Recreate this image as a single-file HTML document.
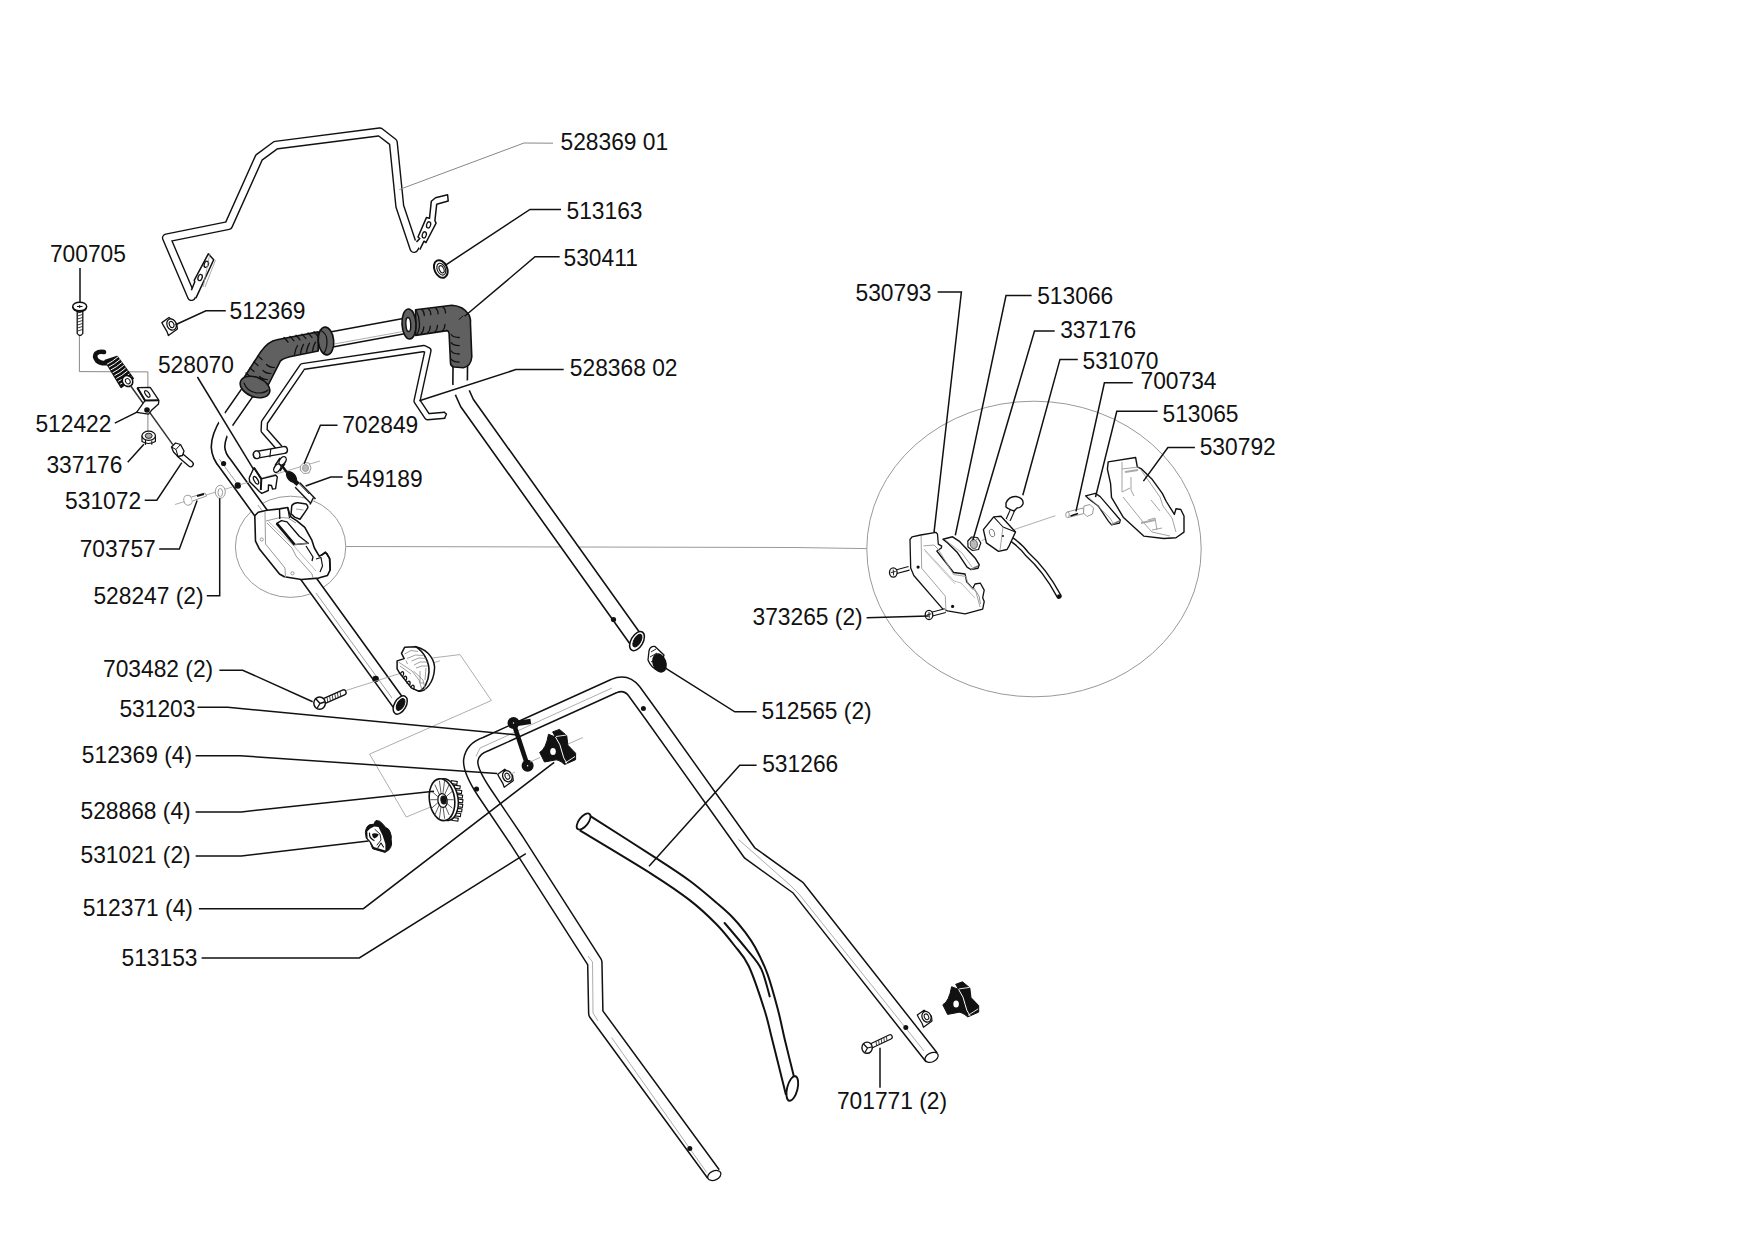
<!DOCTYPE html>
<html><head><meta charset="utf-8"><style>
html,body{margin:0;padding:0;background:#fff;width:1754px;height:1240px;overflow:hidden}
svg{position:absolute;left:0;top:0}
text{font-family:"Liberation Sans",sans-serif;font-size:23.5px;fill:#111}
</style></head><body>
<svg width="1754" height="1240" viewBox="0 0 1754 1240">
<ellipse cx="290.6" cy="546.8" rx="55.2" ry="50.6" transform="rotate(0 290.6 546.8)" fill="none" stroke="#999" stroke-width="1"/>
<polyline points="345.8,546.5 795.0,547.5 866.6,548.6" fill="none" stroke="#999" stroke-width="1" stroke-linejoin="round"/>
<ellipse cx="1034" cy="549" rx="167.2" ry="147.8" transform="rotate(0 1034 549)" fill="none" stroke="#999" stroke-width="1"/>
<polyline points="195.0,289.0 191.5,296.5 166.5,238.0 228.5,225.5 259.0,157.5 275.7,145.2 379.8,131.9 393.3,142.3 399.8,206.2 414.0,248.5 418.0,242.0" fill="none" stroke="#111" stroke-width="9.2" stroke-linejoin="round" stroke-linecap="butt"/>
<polyline points="195.0,289.0 191.5,296.5 166.5,238.0 228.5,225.5 259.0,157.5 275.7,145.2 379.8,131.9 393.3,142.3 399.8,206.2 414.0,248.5 418.0,242.0" fill="none" stroke="#fff" stroke-width="6.4" stroke-linejoin="round" stroke-linecap="butt"/>
<polygon points="191.4,290.2 194.8,281.8 194.2,280.3 208.3,253.8 213.7,259.8 195.9,298.1" fill="#fff" stroke="none"/>
<polyline points="191.4,290.2 194.8,281.8 194.2,280.3 208.3,253.8 213.7,259.8 195.9,298.1" fill="none" stroke="#111" stroke-width="1.5" stroke-linejoin="round"/>
<ellipse cx="206.3" cy="264.3" rx="2" ry="3.2" transform="rotate(20 206.3 264.3)" fill="#fff" stroke="#111" stroke-width="1.3"/>
<ellipse cx="200.1" cy="277.5" rx="2" ry="3.2" transform="rotate(20 200.1 277.5)" fill="#fff" stroke="#111" stroke-width="1.3"/>
<polyline points="210.0,253.3 203.2,286.8" fill="none" stroke="#999" stroke-width="0.8" stroke-linejoin="round"/>
<polyline points="215.5,260.0 205.0,287.0" fill="none" stroke="#999" stroke-width="0.8" stroke-linejoin="round"/>
<polygon points="419.8,249.7 424.0,241.2 426.0,242.5 436.1,223.1 434.9,220.7 436.7,204.3 448.2,201.0 447.6,194.7 435.5,197.7 431.3,201.3 429.5,218.3 426.4,217.6 418.0,237.0 419.8,238.5 416.5,242.1" fill="#fff" stroke="none"/>
<polyline points="419.8,249.7 424.0,241.2 426.0,242.5 436.1,223.1 434.9,220.7 436.7,204.3 448.2,201.0 447.6,194.7 435.5,197.7 431.3,201.3 429.5,218.3 426.4,217.6 418.0,237.0 419.8,238.5 416.5,242.1" fill="none" stroke="#111" stroke-width="1.5" stroke-linejoin="round"/>
<ellipse cx="428.6" cy="224.9" rx="2" ry="3.2" transform="rotate(15 428.6 224.9)" fill="#fff" stroke="#111" stroke-width="1.3"/>
<ellipse cx="424.3" cy="234.9" rx="2" ry="3.2" transform="rotate(15 424.3 234.9)" fill="#fff" stroke="#111" stroke-width="1.3"/>
<ellipse cx="440.8" cy="269" rx="6.3" ry="9.2" transform="rotate(-25 440.8 269)" fill="#fff" stroke="#111" stroke-width="2"/>
<ellipse cx="441.3" cy="269.2" rx="4" ry="6.2" transform="rotate(-25 441.3 269.2)" fill="#fff" stroke="#111" stroke-width="1.1"/>
<ellipse cx="441.6" cy="269.3" rx="2.2" ry="3.8" transform="rotate(-25 441.6 269.3)" fill="#fff" stroke="#111" stroke-width="1.1"/>
<polyline points="445.0,415.3 427.5,416.8 417.0,401.0 428.0,350.5 424.0,348.5 302.6,366.6 264.5,422.3 264.1,430.5 279.7,448.2" fill="none" stroke="#111" stroke-width="7.4" stroke-linejoin="round" stroke-linecap="butt"/>
<polyline points="445.0,415.3 427.5,416.8 417.0,401.0 428.0,350.5 424.0,348.5 302.6,366.6 264.5,422.3 264.1,430.5 279.7,448.2" fill="none" stroke="#fff" stroke-width="4.6" stroke-linejoin="round" stroke-linecap="butt"/>
<polyline points="444.0,412.0 446.5,414.0 444.5,418.5" fill="none" stroke="#111" stroke-width="1.4" stroke-linejoin="round"/>
<polyline points="256.7,454.8 284.0,450.0" fill="none" stroke="#111" stroke-width="8.2" stroke-linejoin="round" stroke-linecap="round"/>
<polyline points="256.7,454.8 284.0,450.0" fill="none" stroke="#fff" stroke-width="5.4" stroke-linejoin="round" stroke-linecap="round"/>
<ellipse cx="256.7" cy="454.8" rx="3.2" ry="3.9" transform="rotate(-10 256.7 454.8)" fill="#fff" stroke="#111" stroke-width="1.3"/>
<polyline points="270.8,449.0 269.8,457.3" fill="none" stroke="#111" stroke-width="1.1" stroke-linejoin="round"/>
<path d="M247,393 L227.5,421 Q218,436 218,447 Q218.5,456 225.5,464 L400.2,705.4" fill="none" stroke="#111" stroke-width="15.1" stroke-linejoin="round" stroke-linecap="butt"/>
<path d="M247,393 L227.5,421 Q218,436 218,447 Q218.5,456 225.5,464 L400.2,705.4" fill="none" stroke="#fff" stroke-width="11.9" stroke-linejoin="round" stroke-linecap="butt"/>
<polyline points="219.3,459.1 236.7,483.0" fill="none" stroke="#888" stroke-width="0.8" stroke-linejoin="round"/>
<polyline points="258.0,505.0 279.0,534.0" fill="none" stroke="#888" stroke-width="0.8" stroke-linejoin="round"/>
<polyline points="316.0,593.0 392.0,698.0" fill="none" stroke="#888" stroke-width="0.8" stroke-linejoin="round"/>
<ellipse cx="400.2" cy="705" rx="5.8" ry="10" transform="rotate(30 400.2 705)" fill="#fff" stroke="#111" stroke-width="1.5"/>
<ellipse cx="400.6" cy="704.5" rx="3.4" ry="6.5" transform="rotate(30 400.6 704.5)" fill="#111" stroke="#111" stroke-width="1"/>
<circle cx="223.6" cy="463.5" r="2.6" fill="#111"/>
<circle cx="237.8" cy="485.5" r="3.2" fill="#111"/>
<circle cx="375.6" cy="679" r="3.3" fill="#111"/>
<polyline points="460.3,364.0 460.1,383.0 462.5,393.0 467.0,403.0 637.0,641.3" fill="none" stroke="#111" stroke-width="16.1" stroke-linejoin="round" stroke-linecap="butt"/>
<polyline points="460.3,364.0 460.1,383.0 462.5,393.0 467.0,403.0 637.0,641.3" fill="none" stroke="#fff" stroke-width="12.9" stroke-linejoin="round" stroke-linecap="butt"/>
<circle cx="613.5" cy="619.5" r="2.6" fill="#111"/>
<ellipse cx="637" cy="641.1" rx="6" ry="10.5" transform="rotate(30 637 641.1)" fill="#fff" stroke="#111" stroke-width="1.5"/>
<ellipse cx="637.4" cy="640.6" rx="3.4" ry="7" transform="rotate(30 637.4 640.6)" fill="#111" stroke="#111" stroke-width="1"/>
<polyline points="326.0,340.5 410.0,325.0" fill="none" stroke="#111" stroke-width="16.900000000000002" stroke-linejoin="round" stroke-linecap="butt"/>
<polyline points="326.0,340.5 410.0,325.0" fill="none" stroke="#fff" stroke-width="13.700000000000001" stroke-linejoin="round" stroke-linecap="butt"/>
<polyline points="334.0,344.0 403.0,331.5" fill="none" stroke="#999" stroke-width="0.8" stroke-linejoin="round"/>
<path d="M243,379.3 L260.8,351.6 Q268.5,341 276.9,339.7 L318.2,331.9 L318.2,351 L289.8,356.8 Q282,359 280.2,361.3 L268.5,384.5 Z" fill="#606060" stroke="#111" stroke-width="1.6" stroke-linejoin="round" stroke-linecap="round"/>
<path d="M284,337.5 l4,4.5" fill="none" stroke="#111" stroke-width="1.3" stroke-linejoin="round" stroke-linecap="round"/>
<path d="M290,336.36 l4,4.5" fill="none" stroke="#111" stroke-width="1.3" stroke-linejoin="round" stroke-linecap="round"/>
<path d="M296,335.22 l4,4.5" fill="none" stroke="#111" stroke-width="1.3" stroke-linejoin="round" stroke-linecap="round"/>
<path d="M302,334.08 l4,4.5" fill="none" stroke="#111" stroke-width="1.3" stroke-linejoin="round" stroke-linecap="round"/>
<path d="M308,332.94 l4,4.5" fill="none" stroke="#111" stroke-width="1.3" stroke-linejoin="round" stroke-linecap="round"/>
<path d="M314,331.8 l4,4.5" fill="none" stroke="#111" stroke-width="1.3" stroke-linejoin="round" stroke-linecap="round"/>
<path d="M294.5,354.5 q1,-6 3,-9" fill="none" stroke="#111" stroke-width="1.3" stroke-linejoin="round" stroke-linecap="round"/>
<path d="M300.5,353.36 q1,-6 3,-9" fill="none" stroke="#111" stroke-width="1.3" stroke-linejoin="round" stroke-linecap="round"/>
<path d="M306.5,352.22 q1,-6 3,-9" fill="none" stroke="#111" stroke-width="1.3" stroke-linejoin="round" stroke-linecap="round"/>
<path d="M312.5,351.08 q1,-6 3,-9" fill="none" stroke="#111" stroke-width="1.3" stroke-linejoin="round" stroke-linecap="round"/>
<path d="M318.5,349.94 q1,-6 3,-9" fill="none" stroke="#111" stroke-width="1.3" stroke-linejoin="round" stroke-linecap="round"/>
<path d="M258,356 l4,3.5" fill="none" stroke="#111" stroke-width="1.2" stroke-linejoin="round" stroke-linecap="round"/>
<path d="M254,362 l4,3.5" fill="none" stroke="#111" stroke-width="1.2" stroke-linejoin="round" stroke-linecap="round"/>
<path d="M250,368 l4,3.5" fill="none" stroke="#111" stroke-width="1.2" stroke-linejoin="round" stroke-linecap="round"/>
<path d="M246,373 l4,3.5" fill="none" stroke="#111" stroke-width="1.2" stroke-linejoin="round" stroke-linecap="round"/>
<path d="M266.5,364.5 q3,3 8,3" fill="none" stroke="#111" stroke-width="1.2" stroke-linejoin="round" stroke-linecap="round"/>
<path d="M263,370.5 q3,3 8,3" fill="none" stroke="#111" stroke-width="1.2" stroke-linejoin="round" stroke-linecap="round"/>
<path d="M259.5,376.5 q3,3 8,3" fill="none" stroke="#111" stroke-width="1.2" stroke-linejoin="round" stroke-linecap="round"/>
<path d="M256.5,382 q3,3 8,3" fill="none" stroke="#111" stroke-width="1.2" stroke-linejoin="round" stroke-linecap="round"/>
<ellipse cx="255" cy="387" rx="15.5" ry="9.8" transform="rotate(22 255 387)" fill="#606060" stroke="#111" stroke-width="1.6"/>
<path d="M244,383 q3,9 14,10 q7,0 10,-3" fill="none" stroke="#111" stroke-width="1.2" stroke-linejoin="round" stroke-linecap="round"/>
<ellipse cx="326" cy="341" rx="7.7" ry="13.9" transform="rotate(-5 326 341)" fill="#606060" stroke="#111" stroke-width="1.6"/>
<path d="M320,330 q7,3 7,11 q0,8 -3,12" fill="none" stroke="#111" stroke-width="1.2" stroke-linejoin="round" stroke-linecap="round"/>
<path d="M415.6,309.7 L451.9,305.3 Q463.5,306 469,314.9 Q471,320 470.4,322.4 L471.8,356.7 Q471,366 463.5,367.7 L453.9,367 Q450.5,366 450.5,362.9 L449.1,333.4 Q448.5,331 447.1,330.6 L415.6,335.4 Z" fill="#606060" stroke="#111" stroke-width="1.6" stroke-linejoin="round" stroke-linecap="round"/>
<path d="M421.8,309.5 q2.5,2 2.5,6" fill="none" stroke="#111" stroke-width="1.3" stroke-linejoin="round" stroke-linecap="round"/>
<path d="M423.8,327.0 q0,4 -2.5,6.5" fill="none" stroke="#111" stroke-width="1.3" stroke-linejoin="round" stroke-linecap="round"/>
<path d="M428.3,308.72 q2.5,2 2.5,6" fill="none" stroke="#111" stroke-width="1.3" stroke-linejoin="round" stroke-linecap="round"/>
<path d="M430.3,326.22 q0,4 -2.5,6.5" fill="none" stroke="#111" stroke-width="1.3" stroke-linejoin="round" stroke-linecap="round"/>
<path d="M435.5,307.856 q2.5,2 2.5,6" fill="none" stroke="#111" stroke-width="1.3" stroke-linejoin="round" stroke-linecap="round"/>
<path d="M437.5,325.356 q0,4 -2.5,6.5" fill="none" stroke="#111" stroke-width="1.3" stroke-linejoin="round" stroke-linecap="round"/>
<path d="M443,306.956 q2.5,2 2.5,6" fill="none" stroke="#111" stroke-width="1.3" stroke-linejoin="round" stroke-linecap="round"/>
<path d="M445,324.456 q0,4 -2.5,6.5" fill="none" stroke="#111" stroke-width="1.3" stroke-linejoin="round" stroke-linecap="round"/>
<path d="M451.2,334.5 q2,3 8,3" fill="none" stroke="#111" stroke-width="1.3" stroke-linejoin="round" stroke-linecap="round"/>
<path d="M451.2,342.7 q2,3 8,3" fill="none" stroke="#111" stroke-width="1.3" stroke-linejoin="round" stroke-linecap="round"/>
<path d="M451.2,351 q2,3 8,3" fill="none" stroke="#111" stroke-width="1.3" stroke-linejoin="round" stroke-linecap="round"/>
<path d="M451.2,359.2 q2,3 8,3" fill="none" stroke="#111" stroke-width="1.3" stroke-linejoin="round" stroke-linecap="round"/>
<path d="M412.5,311 q3,6 3,13 q0,7 -3,11" fill="none" stroke="#111" stroke-width="1.3" stroke-linejoin="round" stroke-linecap="round"/>
<path d="M416.5,311 q3,6 3,13 q0,7 -3,11" fill="none" stroke="#111" stroke-width="1.3" stroke-linejoin="round" stroke-linecap="round"/>
<ellipse cx="409" cy="324" rx="7" ry="15" transform="rotate(-3 409 324)" fill="#606060" stroke="#111" stroke-width="1.6"/>
<ellipse cx="408.3" cy="324.5" rx="2.4" ry="7" transform="rotate(-3 408.3 324.5)" fill="#fff" stroke="#111" stroke-width="1.4"/>
<path d="M463,316 l-4,3.5" fill="none" stroke="#111" stroke-width="1" stroke-linejoin="round" stroke-linecap="round"/>
<path d="M713.5,1174 L595.8,1013.3 L594.8,962.5 L516.4,840 L484,792 Q469.5,770 470.8,760 Q472.5,748.5 486,744 L614,686 Q626,681 634,691 L651.4,715 L749.6,852.9 L798,887.7 L931.6,1057.4" fill="none" stroke="#111" stroke-width="15.8" stroke-linejoin="round" stroke-linecap="butt"/>
<path d="M713.5,1174 L595.8,1013.3 L594.8,962.5 L516.4,840 L484,792 Q469.5,770 470.8,760 Q472.5,748.5 486,744 L614,686 Q626,681 634,691 L651.4,715 L749.6,852.9 L798,887.7 L931.6,1057.4" fill="none" stroke="#fff" stroke-width="12.8" stroke-linejoin="round" stroke-linecap="butt"/>
<polyline points="476.0,756.4 480.0,748.0 490.0,743.5 612.0,688.0" fill="none" stroke="#999" stroke-width="0.8" stroke-linejoin="round"/>
<polyline points="588.0,956.0 592.5,962.0 593.0,1013.0 598.0,1021.0" fill="none" stroke="#999" stroke-width="0.8" stroke-linejoin="round"/>
<polyline points="611.6,1037.6 706.6,1172.4" fill="none" stroke="#999" stroke-width="0.8" stroke-linejoin="round"/>
<polyline points="738.5,839.5 790.0,885.0 799.0,894.0 924.0,1051.0" fill="none" stroke="#999" stroke-width="0.8" stroke-linejoin="round"/>
<circle cx="689.8" cy="1148.5" r="2.5" fill="#111"/>
<circle cx="905.8" cy="1027.6" r="2.5" fill="#111"/>
<circle cx="643.4" cy="708.4" r="2.5" fill="#111"/>
<circle cx="476.5" cy="789" r="2.6" fill="#111"/>
<ellipse cx="714.3" cy="1175.5" rx="7" ry="4.5" transform="rotate(-25 714.3 1175.5)" fill="#fff" stroke="#111" stroke-width="1.3"/>
<ellipse cx="931.6" cy="1057.4" rx="7" ry="4.5" transform="rotate(-25 931.6 1057.4)" fill="#fff" stroke="#111" stroke-width="1.3"/>
<path d="M590,815.9 C601.3,823.1 641.3,848.5 658,859.4 C674.7,870.2 680.3,873.8 690,881 C699.7,888.2 709.2,896.5 716.2,902.5 C723.2,908.5 727.3,911.9 732,916.7 C736.7,921.5 740.7,926.3 744.5,931.4 C748.3,936.5 751.1,939.9 755,947.1 C758.9,954.3 763.8,963.9 767.6,974.4 C771.4,984.9 775.1,999.1 778,1010 C780.9,1020.9 782.2,1028.7 784.9,1040 C787.6,1051.3 792.7,1071.7 794.3,1078 L786,1095 C783.7,1085.8 775.9,1054.2 772.3,1040 C768.7,1025.8 768.4,1022.3 764.5,1010 C760.6,997.7 753.8,976.8 748.7,966 C743.6,955.2 739.4,952.0 734,945 C728.6,938.0 723.5,931.4 716.2,924 C708.9,916.6 700.5,908.6 690,900.4 C679.5,892.2 671.3,886.5 652.9,874.8 C634.5,863.1 592.0,837.8 579.8,830.4 Z" fill="#fff" stroke="none"/>
<path d="M590,815.9 C601.3,823.1 641.3,848.5 658,859.4 C674.7,870.2 680.3,873.8 690,881 C699.7,888.2 709.2,896.5 716.2,902.5 C723.2,908.5 727.3,911.9 732,916.7 C736.7,921.5 740.7,926.3 744.5,931.4 C748.3,936.5 751.1,939.9 755,947.1 C758.9,954.3 763.8,963.9 767.6,974.4 C771.4,984.9 775.1,999.1 778,1010 C780.9,1020.9 782.2,1028.7 784.9,1040 C787.6,1051.3 792.7,1071.7 794.3,1078" fill="none" stroke="#111" stroke-width="2"/>
<path d="M579.8,830.4 C592.0,837.8 634.5,863.1 652.9,874.8 C671.3,886.5 679.5,892.2 690,900.4 C700.5,908.6 708.9,916.6 716.2,924 C723.5,931.4 728.6,938.0 734,945 C739.4,952.0 743.6,955.2 748.7,966 C753.8,976.8 760.6,997.7 764.5,1010 C768.4,1022.3 768.7,1025.8 772.3,1040 C775.9,1054.2 783.7,1085.8 786,1095" fill="none" stroke="#111" stroke-width="2"/>
<path d="M724.6,923 C728.3,927.4 740.5,941.5 746.6,949.2 C752.7,956.9 757.4,961.2 761.3,969.1 C765.1,977.0 768.3,991.9 769.7,996.4" fill="none" stroke="#111" stroke-width="2" stroke-linecap="round"/>
<ellipse cx="583.6" cy="821.5" rx="4.6" ry="9.6" transform="rotate(38 583.6 821.5)" fill="#fff" stroke="#111" stroke-width="1.8"/>
<ellipse cx="792.3" cy="1088.5" rx="5.2" ry="12.6" transform="rotate(14 792.3 1088.5)" fill="#fff" stroke="#111" stroke-width="1.9"/>
<polyline points="175.0,504.5 232.3,487.0" fill="none" stroke="#999" stroke-width="0.8" stroke-linejoin="round"/>
<polyline points="240.0,484.7 320.0,461.0" fill="none" stroke="#999" stroke-width="0.8" stroke-linejoin="round"/>
<g fill="#fff" stroke="#999" stroke-width="1">
<ellipse cx="188" cy="500.2" rx="4.2" ry="5" transform="rotate(-15 188 500.2)"/>
<polyline points="191.5,497 205,493 206.5,496 192.5,501" />
</g>
<polyline points="197.0,496.0 204.0,494.0" fill="none" stroke="#111" stroke-width="2" stroke-linejoin="round"/>
<ellipse cx="220.3" cy="491.8" rx="5" ry="6.5" fill="#fff" stroke="#999" stroke-width="1"/>
<ellipse cx="220.3" cy="492.5" rx="2.3" ry="4" fill="none" stroke="#999" stroke-width="1"/>
<polygon points="249.2,477.9 254.0,467.7 261.3,478.9 275.8,475.3 277.3,477.0 275.6,488.6 272.5,489.0 271.5,485.5 268.5,485.0 268.3,490.5 261.8,493.4 259.4,491.5 249.7,481.8 249.2,477.9" fill="#fff" stroke="none"/>
<polyline points="249.2,477.9 254.0,467.7 261.3,478.9 275.8,475.3 277.3,477.0 275.6,488.6 272.5,489.0 271.5,485.5 268.5,485.0 268.3,490.5 261.8,493.4 259.4,491.5 249.7,481.8 249.2,477.9" fill="none" stroke="#111" stroke-width="1.4" stroke-linejoin="round"/>
<polyline points="254.0,467.7 261.3,478.9 260.8,490.0" fill="none" stroke="#111" stroke-width="2" stroke-linejoin="round"/>
<ellipse cx="256" cy="480.3" rx="1.8" ry="4.2" transform="rotate(-30 256 480.3)" fill="#fff" stroke="#111" stroke-width="1.3"/>
<ellipse cx="277.3" cy="468.2" rx="3" ry="4.6" transform="rotate(35 277.3 468.2)" fill="#fff" stroke="#111" stroke-width="1.4"/>
<ellipse cx="282.6" cy="460.8" rx="3" ry="4.6" transform="rotate(35 282.6 460.8)" fill="#fff" stroke="#111" stroke-width="1.4"/>
<polyline points="275.0,465.5 280.0,458.0" fill="none" stroke="#111" stroke-width="1.4" stroke-linejoin="round"/>
<polyline points="280.0,471.0 285.0,463.5" fill="none" stroke="#111" stroke-width="1.4" stroke-linejoin="round"/>
<polyline points="281.6,465.3 287.0,472.5" fill="none" stroke="#111" stroke-width="2.5" stroke-linejoin="round"/>
<ellipse cx="291.5" cy="477" rx="7" ry="4.3" transform="rotate(48 291.5 477)" fill="#111"/>
<polyline points="294.5,481.0 300.5,486.5" fill="none" stroke="#111" stroke-width="4.5" stroke-linejoin="round"/>
<polyline points="297.5,485.0 313.2,501.3" fill="none" stroke="#111" stroke-width="7.9" stroke-linejoin="round" stroke-linecap="butt"/>
<polyline points="297.5,485.0 313.2,501.3" fill="none" stroke="#fff" stroke-width="5.1" stroke-linejoin="round" stroke-linecap="butt"/>
<polyline points="313.5,497.5 310.0,504.5" fill="none" stroke="#111" stroke-width="1.4" stroke-linejoin="round"/>
<polyline points="299.0,483.5 309.0,494.0" fill="none" stroke="#111" stroke-width="0.8" stroke-linejoin="round"/>
<g fill="#fff" stroke="#999" stroke-width="1">
<polygon points="300.5,466 304,462.5 309,463 311,468 309,473 303.5,473.5 300.3,470"/>
<ellipse cx="305.5" cy="468" rx="3" ry="3.5" fill="#bbb"/>
</g>
<polyline points="79.4,335.5 79.4,371.6 147.9,371.9 147.9,432.0" fill="none" stroke="#888" stroke-width="1" stroke-linejoin="round"/>
<path d="M77.2,309 L77.2,333.5 Q80,337.5 82.8,333.5 L82.8,309 Z" fill="#fff" stroke="#111" stroke-width="1.3"/>
<polyline points="77.5,313.0 82.5,311.5" fill="none" stroke="#111" stroke-width="0.8" stroke-linejoin="round"/>
<polyline points="77.5,316.0 82.5,314.5" fill="none" stroke="#111" stroke-width="0.8" stroke-linejoin="round"/>
<polyline points="77.5,319.0 82.5,317.5" fill="none" stroke="#111" stroke-width="0.8" stroke-linejoin="round"/>
<polyline points="77.5,322.0 82.5,320.5" fill="none" stroke="#111" stroke-width="0.8" stroke-linejoin="round"/>
<polyline points="77.5,325.0 82.5,323.5" fill="none" stroke="#111" stroke-width="0.8" stroke-linejoin="round"/>
<polyline points="77.5,328.0 82.5,326.5" fill="none" stroke="#111" stroke-width="0.8" stroke-linejoin="round"/>
<polyline points="77.5,331.0 82.5,329.5" fill="none" stroke="#111" stroke-width="0.8" stroke-linejoin="round"/>
<ellipse cx="79.7" cy="306.5" rx="7" ry="4.3" transform="rotate(0 79.7 306.5)" fill="#fff" stroke="#111" stroke-width="1.4"/>
<path d="M72.8,307 Q73,311 79.7,312 Q86.5,311 86.6,307" fill="none" stroke="#111" stroke-width="1.3" stroke-linejoin="round" stroke-linecap="round"/>
<polyline points="77.0,306.5 82.5,306.5" fill="none" stroke="#111" stroke-width="1" stroke-linejoin="round"/>
<polyline points="79.7,305.0 79.7,308.0" fill="none" stroke="#111" stroke-width="1" stroke-linejoin="round"/>
<path d="M104,352 Q99,351 96.2,353.4 Q93.8,356.5 97,360.5 Q100.5,364 108,363" fill="none" stroke="#111" stroke-width="4.6" stroke-linejoin="round" stroke-linecap="round"/>
<polygon points="105,360.6 117.1,356.6 133.2,378.4 121.1,387.3" fill="#111" stroke="#111" stroke-width="1.6" stroke-linejoin="round"/>
<path d="M107.3,364.1 Q112.3,361.8 117.8,357.0" fill="none" stroke="#fff" stroke-width="1.0" stroke-linejoin="round" stroke-linecap="round"/>
<path d="M109.2,366.9 Q114.2,364.6 119.7,359.8" fill="none" stroke="#fff" stroke-width="1.0" stroke-linejoin="round" stroke-linecap="round"/>
<path d="M111.1,369.8 Q116.1,367.5 121.6,362.7" fill="none" stroke="#fff" stroke-width="1.0" stroke-linejoin="round" stroke-linecap="round"/>
<path d="M113.0,372.6 Q118.0,370.3 123.5,365.5" fill="none" stroke="#fff" stroke-width="1.0" stroke-linejoin="round" stroke-linecap="round"/>
<path d="M114.8,375.5 Q119.8,373.2 125.3,368.4" fill="none" stroke="#fff" stroke-width="1.0" stroke-linejoin="round" stroke-linecap="round"/>
<path d="M116.7,378.3 Q121.7,376.0 127.2,371.2" fill="none" stroke="#fff" stroke-width="1.0" stroke-linejoin="round" stroke-linecap="round"/>
<path d="M118.6,381.2 Q123.6,378.9 129.1,374.1" fill="none" stroke="#fff" stroke-width="1.0" stroke-linejoin="round" stroke-linecap="round"/>
<path d="M120.5,384.0 Q125.5,381.7 131.0,376.9" fill="none" stroke="#fff" stroke-width="1.0" stroke-linejoin="round" stroke-linecap="round"/>
<ellipse cx="127.5" cy="381" rx="5" ry="5.8" transform="rotate(-35 127.5 381)" fill="#fff" stroke="#111" stroke-width="1.6"/>
<ellipse cx="127.8" cy="381.2" rx="2.2" ry="2.8" transform="rotate(-35 127.8 381.2)" fill="#fff" stroke="#111" stroke-width="1"/>
<polyline points="130.2,385.2 172.8,444.6" fill="none" stroke="#333" stroke-width="1.5" stroke-linejoin="round"/>
<polygon points="137.3,387.7 150.2,387.4 158.9,400.3 158.5,403.9 151.5,410.3 148.5,414.2 136.6,412.3 145.0,400.6 137.3,387.7" fill="#fff" stroke="none"/>
<polyline points="137.3,387.7 150.2,387.4 158.9,400.3 158.5,403.9 151.5,410.3 148.5,414.2 136.6,412.3 145.0,400.6 137.3,387.7" fill="none" stroke="#111" stroke-width="1.3" stroke-linejoin="round"/>
<polyline points="137.3,387.7 145.0,400.6 158.9,400.3" fill="none" stroke="#111" stroke-width="2" stroke-linejoin="round"/>
<ellipse cx="147.3" cy="393.9" rx="1.8" ry="3.8" transform="rotate(-35 147.3 393.9)" fill="#fff" stroke="#111" stroke-width="1.2"/>
<circle cx="147" cy="410" r="2.8" fill="#111"/>
<g stroke="#111" stroke-width="1.2" fill="#fff">
<path d="M142,436 L142,441.5 Q148.5,445.5 155.4,441.5 L155.4,436 Z"/>
<ellipse cx="148.7" cy="435.8" rx="6.7" ry="4.6"/>
<ellipse cx="148.7" cy="435.8" rx="3.5" ry="2.6" fill="#aaa" stroke-width="0.9"/>
<polyline points="145.5,440 145.5,444.5 M151.5,440 151.5,444.5" fill="none"/>
</g>
<polyline points="145.5,440.5 145.5,444.8" fill="none" stroke="#111" stroke-width="1" stroke-linejoin="round"/>
<polyline points="151.8,440.5 151.8,444.8" fill="none" stroke="#111" stroke-width="1" stroke-linejoin="round"/>
<polyline points="180.0,455.0 190.5,464.0" fill="none" stroke="#111" stroke-width="6.8" stroke-linejoin="round" stroke-linecap="round"/>
<polyline points="180.0,455.0 190.5,464.0" fill="none" stroke="#fff" stroke-width="4.2" stroke-linejoin="round" stroke-linecap="round"/>
<polygon points="171.5,447 175.5,443 180.5,444.5 184,451 182.5,455.5 178,456.5 173.5,452" fill="#fff" stroke="#111" stroke-width="1.3" stroke-linejoin="round"/>
<polyline points="171.5,447.0 176.0,449.5 180.5,444.5" fill="none" stroke="#111" stroke-width="1" stroke-linejoin="round"/>
<polyline points="176.0,449.5 178.0,456.5" fill="none" stroke="#111" stroke-width="1" stroke-linejoin="round"/>
<g transform="translate(171.6 324.5) rotate(0) scale(1.0)">
<polygon points="-9.7,-1.9 -2.6,-7 5.2,-0.6 5.8,4.5 -3.2,11 -4.6,7.1 -8.4,0.7" fill="#fff" stroke="#111" stroke-width="1.3" stroke-linejoin="round"/>
<ellipse cx="0" cy="0" rx="4.6" ry="5.8" transform="rotate(-25)" fill="#fff" stroke="#111" stroke-width="1.3"/>
<ellipse cx="0" cy="0" rx="2.2" ry="3.2" transform="rotate(-25)" fill="#fff" stroke="#111" stroke-width="1.1"/>
</g>
<g transform="translate(507.4 776.2) rotate(0) scale(1.0)">
<polygon points="-9.7,-1.9 -2.6,-7 5.2,-0.6 5.8,4.5 -3.2,11 -4.6,7.1 -8.4,0.7" fill="#fff" stroke="#111" stroke-width="1.3" stroke-linejoin="round"/>
<ellipse cx="0" cy="0" rx="4.6" ry="5.8" transform="rotate(-25)" fill="#fff" stroke="#111" stroke-width="1.3"/>
<ellipse cx="0" cy="0" rx="2.2" ry="3.2" transform="rotate(-25)" fill="#fff" stroke="#111" stroke-width="1.1"/>
</g>
<g transform="translate(926.5 1016.8) rotate(0) scale(0.95)">
<polygon points="-9.7,-1.9 -2.6,-7 5.2,-0.6 5.8,4.5 -3.2,11 -4.6,7.1 -8.4,0.7" fill="#fff" stroke="#111" stroke-width="1.3" stroke-linejoin="round"/>
<ellipse cx="0" cy="0" rx="4.6" ry="5.8" transform="rotate(-25)" fill="#fff" stroke="#111" stroke-width="1.3"/>
<ellipse cx="0" cy="0" rx="2.2" ry="3.2" transform="rotate(-25)" fill="#fff" stroke="#111" stroke-width="1.1"/>
</g>
<polygon points="254.8,515.8 258.2,512.3 267.1,510.3 279.5,508.9 287.7,507.5 289.1,512.3 291.1,517.1 296.6,520.6 304.8,527.4 311.7,539.8 314.4,548.0 319.2,556.2 322.0,554.8 325.4,552.1 329.5,558.3 330.2,569.9 327.5,575.4 318.5,578.1 301.4,579.5 284.3,576.8 279.5,574.0 259.6,549.3 255.5,541.1" fill="#fff" stroke="#111" stroke-width="1.6" stroke-linejoin="round"/>
<polyline points="265.0,512.0 265.5,544.0 285.0,568.0 285.5,578.0" fill="none" stroke="#999" stroke-width="1" stroke-linejoin="round"/>
<polyline points="266.0,521.0 280.0,517.5 288.0,518.0 296.0,523.0" fill="none" stroke="#999" stroke-width="1" stroke-linejoin="round"/>
<polyline points="267.0,523.0 292.0,548.0 296.0,556.0 312.0,574.0 313.0,578.0" fill="none" stroke="#999" stroke-width="1" stroke-linejoin="round"/>
<polyline points="268.5,521.5 294.0,546.0 300.0,553.0 316.0,571.0" fill="none" stroke="#aaa" stroke-width="0.8" stroke-linejoin="round"/>
<polyline points="279.5,508.9 279.8,519.0" fill="none" stroke="#111" stroke-width="1.4" stroke-linejoin="round"/>
<polyline points="287.7,507.5 289.5,518.0" fill="none" stroke="#111" stroke-width="1.2" stroke-linejoin="round"/>
<path d="M276.7,523.3 L281.5,520.6 L287,521.9 L299.3,536.3 L308.3,543.2 L294.6,544.6 Z" fill="#fff" stroke="#111" stroke-width="1.4" stroke-linejoin="round" stroke-linecap="round"/>
<polyline points="276.7,523.3 294.6,544.6" fill="none" stroke="#111" stroke-width="2.6" stroke-linejoin="round"/>
<polyline points="294.6,544.6 308.3,543.2" fill="none" stroke="#777" stroke-width="1.2" stroke-linejoin="round"/>
<polyline points="306.0,546.0 313.0,557.0 312.0,561.0" fill="none" stroke="#111" stroke-width="1.3" stroke-linejoin="round"/>
<path d="M291.8,505.5 Q294,502.5 298,502.7 L306.2,504.1 Q308.5,506 307.6,508.2 L304.8,512.3 L300,519.2 L294.6,517.1 L291.1,513.7 Z" fill="#fff" stroke="#111" stroke-width="1.5" stroke-linejoin="round" stroke-linecap="round"/>
<polyline points="296.0,509.0 303.5,510.0" fill="none" stroke="#999" stroke-width="0.9" stroke-linejoin="round"/>
<path d="M322,554.8 Q325,552 327,553.5 L329.8,559 L330.2,569.9" fill="none" stroke="#111" stroke-width="1.5" stroke-linejoin="round" stroke-linecap="round"/>
<polyline points="316.0,559.0 321.0,557.5 322.5,566.0 320.0,572.0" fill="none" stroke="#111" stroke-width="1.2" stroke-linejoin="round"/>
<circle cx="261.7" cy="539.5" r="1.6" fill="none" stroke="#999" stroke-width="1"/>
<circle cx="292.5" cy="573.3" r="1.6" fill="none" stroke="#999" stroke-width="1"/>
<polyline points="345.0,690.8 440.0,660.8" fill="none" stroke="#999" stroke-width="0.8" stroke-linejoin="round"/>
<polyline points="432.0,658.0 460.0,654.6 491.4,700.5 369.6,754.1 406.3,817.0 433.0,806.0" fill="none" stroke="#999" stroke-width="0.8" stroke-linejoin="round"/>
<polyline points="322.0,702.0 343.5,692.5" fill="none" stroke="#111" stroke-width="6.5" stroke-linejoin="round" stroke-linecap="round"/>
<polyline points="322.0,702.0 343.5,692.5" fill="none" stroke="#fff" stroke-width="3.9000000000000004" stroke-linejoin="round" stroke-linecap="round"/>
<polyline points="327.0,697.3 327.8,702.1" fill="none" stroke="#111" stroke-width="0.8" stroke-linejoin="round"/>
<polyline points="329.6,696.1 330.4,700.9" fill="none" stroke="#111" stroke-width="0.8" stroke-linejoin="round"/>
<polyline points="332.2,695.0 333.0,699.8" fill="none" stroke="#111" stroke-width="0.8" stroke-linejoin="round"/>
<polyline points="334.8,693.8 335.6,698.6" fill="none" stroke="#111" stroke-width="0.8" stroke-linejoin="round"/>
<polyline points="337.4,692.7 338.2,697.5" fill="none" stroke="#111" stroke-width="0.8" stroke-linejoin="round"/>
<polyline points="340.0,691.5 340.8,696.3" fill="none" stroke="#111" stroke-width="0.8" stroke-linejoin="round"/>
<ellipse cx="319.6" cy="703.1" rx="5.8" ry="6.2" transform="rotate(0 319.6 703.1)" fill="#fff" stroke="#111" stroke-width="1.5"/>
<path d="M316,699 L320,703.5 L317.5,707.5 M320,703.5 L324.5,702" fill="none" stroke="#111" stroke-width="1.4" stroke-linejoin="round" stroke-linecap="round"/>
<path d="M404.6,647.3 L415.7,646.7 C430,650 435.5,662 434.4,670 C433.5,682 426,692 418.8,691.3 L411.3,687.9 L399.8,673.3 L397.1,668.8 L397.1,660.9 L404.2,658.6 L401.5,653.3 Z" fill="#fff" stroke="#111" stroke-width="1.5" stroke-linejoin="round" stroke-linecap="round"/>
<path d="M415.7,646.7 C424,652 429.5,662 429,672 C428.5,682 424,690 418.8,691.3" fill="none" stroke="#111" stroke-width="1.6" stroke-linejoin="round" stroke-linecap="round"/>
<path d="M400.5,673.5 q1.5,-3 3,-1 q0.5,2 -0.5,3" fill="none" stroke="#111" stroke-width="1.3" stroke-linejoin="round" stroke-linecap="round"/>
<path d="M403.5,678 q1.5,-3 3,-1 q0.5,2 -0.5,3" fill="none" stroke="#111" stroke-width="1.3" stroke-linejoin="round" stroke-linecap="round"/>
<path d="M407,683 q1.5,-3 3,-1 q0.5,2 -0.5,3" fill="none" stroke="#111" stroke-width="1.3" stroke-linejoin="round" stroke-linecap="round"/>
<path d="M411,687 q1.5,-3 3,-1 q0.5,2 -0.5,3" fill="none" stroke="#111" stroke-width="1.3" stroke-linejoin="round" stroke-linecap="round"/>
<g fill="none" stroke="#888" stroke-width="0.8">
<path d="M404.5,654 L411,650.5 L418,651.5 M407,658.5 L415.5,655 L423,655.5 M411.5,661 L419,658 L426,658.5 M414,665 L420,662 L427.5,662 M416,668 L422,666 L428,666 M398.5,662 L412,671 L419,680 L422,690 M400,666 L411,674 M413.5,671 L423,680 L425.5,690 M420,671 L420,683 L424,683 M406,660.5 L407.5,664 M426,668 L425,680"/>
</g>
<g stroke="#111" fill="#fff">
<rect x="451.3" y="781.0" width="6" height="3" stroke-width="1.1" transform="rotate(8 454.2591770999996 781.0)"/>
<rect x="454.3" y="785.6" width="6" height="3" stroke-width="1.1" transform="rotate(8 457.2787081159183 785.6)"/>
<rect x="455.8" y="790.2" width="6" height="3" stroke-width="1.1" transform="rotate(8 458.8443327742811 790.2)"/>
<rect x="456.7" y="794.8" width="6" height="3" stroke-width="1.1" transform="rotate(8 459.6885747520274 794.8)"/>
<rect x="457.0" y="799.4" width="6" height="3" stroke-width="1.1" transform="rotate(8 459.9959175340205 799.4)"/>
<rect x="456.8" y="804.0" width="6" height="3" stroke-width="1.1" transform="rotate(8 459.81691815623253 804.0)"/>
<rect x="456.1" y="808.6" width="6" height="3" stroke-width="1.1" transform="rotate(8 459.1229942970118 808.6)"/>
<rect x="454.8" y="813.2" width="6" height="3" stroke-width="1.1" transform="rotate(8 457.77751862218065 813.2)"/>
<rect x="452.3" y="817.8" width="6" height="3" stroke-width="1.1" transform="rotate(8 455.30605267702254 817.8)"/>
</g>
<ellipse cx="445.5" cy="799.7" rx="12.6" ry="21" transform="rotate(-8 445.5 799.7)" fill="#fff" stroke="#111" stroke-width="1.5"/>
<ellipse cx="442" cy="799.7" rx="12.6" ry="21" transform="rotate(-8 442 799.7)" fill="#fff" stroke="#111" stroke-width="1.6"/>
<g stroke="#333" stroke-width="0.8">
<line x1="446.5" y1="799.7" x2="453.5" y2="799.7"/>
<line x1="446.1" y1="802.7" x2="452.4" y2="808.2"/>
<line x1="444.8" y1="805.2" x2="449.2" y2="814.9"/>
<line x1="443.0" y1="806.5" x2="444.6" y2="818.7"/>
<line x1="441.0" y1="806.5" x2="439.4" y2="818.7"/>
<line x1="439.2" y1="805.2" x2="434.8" y2="814.9"/>
<line x1="437.9" y1="802.7" x2="431.6" y2="808.2"/>
<line x1="437.5" y1="799.7" x2="430.5" y2="799.7"/>
<line x1="437.9" y1="796.7" x2="431.6" y2="791.2"/>
<line x1="439.2" y1="794.2" x2="434.8" y2="784.5"/>
<line x1="441.0" y1="792.9" x2="439.4" y2="780.7"/>
<line x1="443.0" y1="792.9" x2="444.6" y2="780.7"/>
<line x1="444.8" y1="794.2" x2="449.2" y2="784.5"/>
<line x1="446.1" y1="796.7" x2="452.4" y2="791.2"/>
</g>
<ellipse cx="442.5" cy="800.5" rx="4.6" ry="7" transform="rotate(-8 442.5 800.5)" fill="#fff" stroke="#111" stroke-width="1.3"/>
<ellipse cx="443.5" cy="800" rx="2.6" ry="4" transform="rotate(-8 443.5 800)" fill="#111" stroke="#111" stroke-width="1"/>
<path d="M365.4,832.4 Q366,826.5 369.4,824.8 L374.2,824.1 Q375,820.8 376,820.5 L379.6,821.2 L383.2,824.4 L385.4,827.3 Q389.5,829 390.1,832.1 Q391.8,836 391.2,839.7 L391.6,844 Q391,848 389,849.8 L385,852.4 L372.7,848.8 L370.2,842.6 L366.2,838.2 Z" fill="#111" stroke="#111" stroke-width="1" stroke-linejoin="round"/>
<path d="M367.3,831.3 Q370,828 374.2,826.6 L378.5,827 L382.5,835.3 L385.4,844 L385.4,850.6 L373.8,847 L370.9,841.9 L367.6,838.2 Z" fill="#fff"/>
<path d="M372,834 Q375,832.5 378.9,834.5 Q377,838 374.5,838.6 Q372,837 372,834 Z" fill="#111"/>
<path d="M369.5,833 Q369,838 374,840.5" fill="none" stroke="#111" stroke-width="1.2" stroke-linejoin="round" stroke-linecap="round"/>
<path d="M375,829.5 L380,834 L381,840 L377,845" fill="none" stroke="#111" stroke-width="0.9" stroke-linejoin="round" stroke-linecap="round"/>
<path d="M378,847.5 L381,843 L383.5,847" fill="none" stroke="#111" stroke-width="1.1" stroke-linejoin="round" stroke-linecap="round"/>
<polyline points="513.5,723.0 527.6,765.7" fill="none" stroke="#111" stroke-width="4.6" stroke-linejoin="round"/>
<polyline points="517.9,723.4 530.8,721.4" fill="none" stroke="#111" stroke-width="5.2" stroke-linejoin="round"/>
<circle cx="513.5" cy="723" r="6" fill="#111"/>
<circle cx="527.6" cy="765.7" r="6" fill="#111"/>
<circle cx="513.5" cy="723" r="0.7" fill="#fff"/>
<circle cx="527.6" cy="765.7" r="0.7" fill="#fff"/>
<polyline points="530.0,762.0 540.0,757.5" fill="none" stroke="#999" stroke-width="0.8" stroke-linejoin="round"/>
<polyline points="568.0,744.0 583.0,737.5" fill="none" stroke="#999" stroke-width="0.8" stroke-linejoin="round"/>
<polyline points="515.0,772.0 507.0,776.0" fill="none" stroke="#999" stroke-width="0.8" stroke-linejoin="round"/>
<g transform="translate(0 0) scale(1.0)">
<path d="M539.7,752.4 Q546,749 548.5,734.3 L555.5,737 L552.6,731.9 L559.4,729.4 L566.7,735.5 L567.9,745.2 L575.6,753.2 L575.6,759.7 L564.7,764.5 Q558,759 555,760 Q550,761 544.5,762 Z" fill="#111" stroke="#111" stroke-width="1" stroke-linejoin="round"/>
<path d="M555.5,737 Q561,745 562,752 Q563,758 567,763.5" fill="none" stroke="#fff" stroke-width="1"/>
<path d="M556,736.5 L566.5,735" fill="none" stroke="#fff" stroke-width="0.9"/>
<path d="M565,763 L575,756.5" fill="none" stroke="#fff" stroke-width="0.9"/>
<ellipse cx="553" cy="751.6" rx="2.8" ry="3.5" fill="#fff"/>
</g>
<g transform="translate(403.1 252.4) scale(1.0)">
<path d="M539.7,752.4 Q546,749 548.5,734.3 L555.5,737 L552.6,731.9 L559.4,729.4 L566.7,735.5 L567.9,745.2 L575.6,753.2 L575.6,759.7 L564.7,764.5 Q558,759 555,760 Q550,761 544.5,762 Z" fill="#111" stroke="#111" stroke-width="1" stroke-linejoin="round"/>
<path d="M555.5,737 Q561,745 562,752 Q563,758 567,763.5" fill="none" stroke="#fff" stroke-width="1"/>
<path d="M556,736.5 L566.5,735" fill="none" stroke="#fff" stroke-width="0.9"/>
<path d="M565,763 L575,756.5" fill="none" stroke="#fff" stroke-width="0.9"/>
<ellipse cx="553" cy="751.6" rx="2.8" ry="3.5" fill="#fff"/>
</g>
<g stroke="#111" stroke-width="1.3" stroke-linejoin="round">
<path d="M649,651 Q650,646 655,646.5 L664,655 L659,671 Q651,668 648,660 Z" fill="#fff"/>
<ellipse cx="659.5" cy="663" rx="6.3" ry="9.3" transform="rotate(-20 659.5 663)" fill="#111"/>
<path d="M651,652 L656,649 M650,657 L657,653 M651,662 L657,658" fill="none" stroke-width="0.9"/>
</g>
<polyline points="871.0,1046.0 890.0,1037.0" fill="none" stroke="#111" stroke-width="5.7" stroke-linejoin="round" stroke-linecap="round"/>
<polyline points="871.0,1046.0 890.0,1037.0" fill="none" stroke="#fff" stroke-width="3.3" stroke-linejoin="round" stroke-linecap="round"/>
<polyline points="876.0,1041.3 876.6,1045.5" fill="none" stroke="#111" stroke-width="0.8" stroke-linejoin="round"/>
<polyline points="878.6,1040.1 879.2,1044.3" fill="none" stroke="#111" stroke-width="0.8" stroke-linejoin="round"/>
<polyline points="881.2,1038.9 881.8,1043.1" fill="none" stroke="#111" stroke-width="0.8" stroke-linejoin="round"/>
<polyline points="883.8,1037.7 884.4,1041.9" fill="none" stroke="#111" stroke-width="0.8" stroke-linejoin="round"/>
<polyline points="886.4,1036.5 887.0,1040.7" fill="none" stroke="#111" stroke-width="0.8" stroke-linejoin="round"/>
<ellipse cx="867.1" cy="1047.7" rx="5.2" ry="5.6" transform="rotate(0 867.1 1047.7)" fill="#fff" stroke="#111" stroke-width="1.4"/>
<path d="M864,1044.5 L867.5,1048 L865.5,1051.5 M867.5,1048 L871.5,1047" fill="none" stroke="#111" stroke-width="1.2" stroke-linejoin="round" stroke-linecap="round"/>
<polyline points="981.6,540.5 1055.4,515.7" fill="none" stroke="#999" stroke-width="0.8" stroke-linejoin="round"/>
<polygon points="910.0,539.5 912.0,536.8 920.7,535.0 936.0,532.3 937.5,534.2 938.3,544.1 941.7,546.1 941.3,548.0 936.8,551.0 953.6,572.5 965.1,574.0 966.6,581.7 972.7,588.6 975.0,584.0 980.4,583.2 984.2,590.1 982.7,597.7 984.2,601.6 982.7,609.2 965.1,613.8 947.5,610.8 942.9,609.2 913.8,575.5 910.7,567.9" fill="#fff" stroke="#111" stroke-width="1.3" stroke-linejoin="round"/>
<polyline points="921.1,536.0 921.7,568.3 945.3,596.1 945.9,610.6" fill="none" stroke="#999" stroke-width="0.9" stroke-linejoin="round"/>
<polyline points="923.5,545.9 934.0,545.0 938.0,549.0 953.6,574.5 966.0,576.5 968.0,584.0 976.0,592.0 980.0,607.0" fill="none" stroke="#999" stroke-width="0.9" stroke-linejoin="round"/>
<polyline points="924.0,549.0 954.0,581.0 961.0,583.0 975.0,598.0" fill="none" stroke="#aaa" stroke-width="0.8" stroke-linejoin="round"/>
<polyline points="925.0,551.0 955.0,584.0" fill="none" stroke="#bbb" stroke-width="0.8" stroke-linejoin="round"/>
<polyline points="974.0,588.0 979.0,596.0 980.5,604.0" fill="none" stroke="#888" stroke-width="0.9" stroke-linejoin="round"/>
<circle cx="918.1" cy="567.1" r="1.6" fill="#111"/>
<circle cx="952.6" cy="606.4" r="1.6" fill="#111"/>
<polyline points="895.3,572.0 909.0,568.3" fill="none" stroke="#111" stroke-width="4.9" stroke-linejoin="round" stroke-linecap="butt"/>
<polyline points="895.3,572.0 909.0,568.3" fill="none" stroke="#fff" stroke-width="2.6999999999999997" stroke-linejoin="round" stroke-linecap="butt"/>
<ellipse cx="893.3" cy="572.5" rx="3.8" ry="4.6" transform="rotate(0 893.3 572.5)" fill="#fff" stroke="#111" stroke-width="1.3"/>
<path d="M891.3,572.5 L895.3,571.5 M893.3,570.0 L893.5999999999999,575.0" fill="none" stroke="#111" stroke-width="0.9" stroke-linejoin="round" stroke-linecap="round"/>
<polyline points="931.0,614.4 945.3,610.6" fill="none" stroke="#111" stroke-width="4.9" stroke-linejoin="round" stroke-linecap="butt"/>
<polyline points="931.0,614.4 945.3,610.6" fill="none" stroke="#fff" stroke-width="2.6999999999999997" stroke-linejoin="round" stroke-linecap="butt"/>
<ellipse cx="929" cy="614.9" rx="3.8" ry="4.6" transform="rotate(0 929 614.9)" fill="#fff" stroke="#111" stroke-width="1.3"/>
<path d="M927,614.9 L931,613.9 M929,612.4 L929.3,617.4" fill="none" stroke="#111" stroke-width="0.9" stroke-linejoin="round" stroke-linecap="round"/>
<polygon points="942.9,539.3 952.6,536.8 959.8,541.7 975.5,558.6 979.2,564.7 978.0,568.3 970.7,569.5 967.1,567.1 957.4,552.6 947.7,542.9" fill="#fff" stroke="#111" stroke-width="1.4" stroke-linejoin="round"/>
<polyline points="946.0,540.5 962.0,553.0 972.0,567.0" fill="none" stroke="#999" stroke-width="0.8" stroke-linejoin="round"/>
<polyline points="970.7,569.5 978.0,566.0" fill="none" stroke="#777" stroke-width="1.5" stroke-linejoin="round"/>
<polygon points="967.8,541 971.5,537 977.5,537.5 980.8,543 978.5,549.5 972.5,550.5 968,547" fill="#fff" stroke="#111" stroke-width="1.2" stroke-linejoin="round"/>
<ellipse cx="973.8" cy="544" rx="3.6" ry="4.6" transform="rotate(-10 973.8 544)" fill="#bbb" stroke="#555" stroke-width="0.9"/>
<polyline points="971.5,537.0 973.0,541.5" fill="none" stroke="#555" stroke-width="0.8" stroke-linejoin="round"/>
<polyline points="977.5,537.5 976.5,540.0" fill="none" stroke="#555" stroke-width="0.8" stroke-linejoin="round"/>
<path d="M1012.5,540 Q1022,547 1027,554 Q1045,570 1059,596.1" fill="none" stroke="#111" stroke-width="5.4" stroke-linejoin="round" stroke-linecap="round"/>
<path d="M1012.5,540 Q1022,547 1027,554 Q1045,570 1059,596.1" fill="none" stroke="#fff" stroke-width="2.6" stroke-linejoin="round" stroke-linecap="round"/>
<circle cx="1059" cy="596.3" r="2" fill="#111"/>
<polygon points="983.4,529.6 993.7,516.9 1001.0,516.3 1015.5,532.0 1009.4,545.3 1007.0,549.5 998.5,551.4 986.4,542.9" fill="#fff" stroke="#111" stroke-width="1.4" stroke-linejoin="round"/>
<polyline points="993.7,516.9 1003.0,527.0 1015.5,532.0" fill="none" stroke="#111" stroke-width="1.1" stroke-linejoin="round"/>
<polyline points="1003.0,527.0 1000.0,550.0" fill="none" stroke="#999" stroke-width="0.9" stroke-linejoin="round"/>
<ellipse cx="992" cy="533" rx="2.5" ry="4" transform="rotate(-20 992 533)" fill="none" stroke="#777" stroke-width="0.9"/>
<circle cx="1003" cy="536" r="1" fill="#111"/>
<polyline points="1008.2,519.9 1013.0,509.0" fill="none" stroke="#111" stroke-width="5.5" stroke-linejoin="round"/>
<polyline points="1008.2,519.9 1013.0,509.0" fill="none" stroke="#fff" stroke-width="3.2" stroke-linejoin="round"/>
<path d="M1006,503 Q1009,496 1016,496.5 Q1024,498 1023,504 Q1021,508 1017,508 L1014,511 Q1008,509 1006,507 Z" fill="#fff" stroke="#111" stroke-width="1.4" stroke-linejoin="round" stroke-linecap="round"/>
<g stroke="#999" stroke-width="1" fill="#fff">
<path d="M1067,512 L1083,508 L1084,513.5 L1068,517.5 Z"/>
<polygon points="1084,506 1090,504.5 1093.5,508 1092.5,514 1087,516.5 1083.5,513"/>
<ellipse cx="1067.5" cy="514.8" rx="1.8" ry="2.8"/>
</g>
<polyline points="1070.5,516.0 1078.0,513.5" fill="none" stroke="#111" stroke-width="1.6" stroke-linejoin="round"/>
<polygon points="1085.6,495.8 1095.3,493.4 1100.2,496.6 1120.3,520.0 1119.5,523.2 1111.5,524.8 1108.2,520.8 1098.5,506.3 1088.9,499.0" fill="#fff" stroke="#111" stroke-width="1.3" stroke-linejoin="round"/>
<polyline points="1089.0,497.5 1110.0,518.0 1113.0,523.0" fill="none" stroke="#999" stroke-width="0.8" stroke-linejoin="round"/>
<polyline points="1111.5,524.8 1119.5,521.0" fill="none" stroke="#777" stroke-width="1.5" stroke-linejoin="round"/>
<polygon points="1108.2,461.9 1135.6,457.5 1137.3,466.8 1141.3,468.8 1151.8,478.9 1162.3,493.4 1166.3,501.5 1174.4,514.4 1176.0,508.7 1180.8,509.5 1184.0,516.0 1184.0,532.1 1176.0,537.7 1163.9,538.5 1143.7,536.1 1123.5,517.6 1111.5,497.4 1110.6,483.7 1107.4,469.2" fill="#fff" stroke="#111" stroke-width="1.4" stroke-linejoin="round"/>
<g fill="none" stroke="#999" stroke-width="0.9">
<path d="M1122,462 L1122,492 L1130,488 M1122,469 L1139,467 M1131,477 L1131,490 L1134,496 M1123,497 L1143,522 L1152,532 L1170,536 M1141,470 L1160,497 L1163,506 L1172,518 L1176,532 M1151,500 L1160,511 M1148,520 L1155,518 L1157,530 M1152,530 L1162,528"/>
</g>
<polyline points="1125.0,472.0 1138.0,470.0" fill="none" stroke="#aaa" stroke-width="2.2" stroke-linejoin="round"/>
<polyline points="1141.0,523.0 1155.0,520.0" fill="none" stroke="#aaa" stroke-width="2" stroke-linejoin="round"/>
<line x1="449" y1="391.6" x2="475" y2="383.2" stroke="#fff" stroke-width="10"/>
<line x1="217.5" y1="410.5" x2="235.5" y2="440" stroke="#fff" stroke-width="10"/>
<polyline points="553.0,143.2 524.0,143.0 399.4,189.5" fill="none" stroke="#888" stroke-width="1"/>
<polyline points="561.0,209.4 530.0,209.4 445.2,265.3" fill="none" stroke="#111" stroke-width="1.5"/>
<polyline points="559.7,256.8 535.0,256.8 464.6,316.3" fill="none" stroke="#111" stroke-width="1.5"/>
<polyline points="80.0,268.0 80.0,302.0" fill="none" stroke="#111" stroke-width="1.5"/>
<polyline points="225.8,310.7 205.9,310.7 175.5,324.7" fill="none" stroke="#111" stroke-width="1.5"/>
<polyline points="197.4,377.0 253.7,469.7" fill="none" stroke="#111" stroke-width="1.5"/>
<polyline points="563.7,369.6 515.8,369.6 419.4,400.8" fill="none" stroke="#111" stroke-width="1.5"/>
<polyline points="114.8,423.2 138.0,411.6" fill="none" stroke="#111" stroke-width="1.5"/>
<polyline points="337.5,425.2 320.4,425.2 304.1,463.8" fill="none" stroke="#111" stroke-width="1.5"/>
<polyline points="127.7,462.3 143.9,444.2" fill="none" stroke="#111" stroke-width="1.5"/>
<polyline points="342.7,477.1 330.8,477.1 305.6,486.0" fill="none" stroke="#111" stroke-width="1.5"/>
<polyline points="144.7,500.2 156.8,500.2 181.8,462.7" fill="none" stroke="#111" stroke-width="1.5"/>
<polyline points="159.2,549.0 179.4,549.0 197.1,500.6" fill="none" stroke="#111" stroke-width="1.5"/>
<polyline points="206.8,595.8 219.7,595.8 219.7,498.2" fill="none" stroke="#111" stroke-width="1.5"/>
<polyline points="219.4,670.2 242.7,670.2 312.7,701.7" fill="none" stroke="#111" stroke-width="1.5"/>
<polyline points="197.5,707.2 227.7,707.2 517.1,734.9" fill="none" stroke="#111" stroke-width="1.5"/>
<polyline points="756.6,711.8 734.8,711.8 664.7,667.7" fill="none" stroke="#111" stroke-width="1.5"/>
<polyline points="195.6,755.7 240.0,755.7 497.1,773.4" fill="none" stroke="#111" stroke-width="1.5"/>
<polyline points="756.6,765.3 739.7,765.3 649.0,866.2" fill="none" stroke="#111" stroke-width="1.5"/>
<polyline points="195.6,811.9 241.4,811.9 434.0,791.3" fill="none" stroke="#111" stroke-width="1.5"/>
<polyline points="195.6,856.0 241.4,856.0 368.4,841.0" fill="none" stroke="#111" stroke-width="1.5"/>
<polyline points="198.9,908.7 363.4,908.7 554.2,762.3" fill="none" stroke="#111" stroke-width="1.5"/>
<polyline points="201.6,958.0 359.3,958.0 525.8,853.7" fill="none" stroke="#111" stroke-width="1.5"/>
<polyline points="880.0,1087.7 880.0,1047.7" fill="none" stroke="#111" stroke-width="1.5"/>
<polyline points="937.6,292.0 961.4,292.0 934.0,532.6" fill="none" stroke="#111" stroke-width="1.5"/>
<polyline points="1031.6,295.5 1006.0,295.5 955.3,535.4" fill="none" stroke="#111" stroke-width="1.5"/>
<polyline points="1054.7,331.0 1034.5,331.0 973.0,539.7" fill="none" stroke="#111" stroke-width="1.5"/>
<polyline points="1077.8,359.4 1060.0,359.4 1022.8,495.3" fill="none" stroke="#111" stroke-width="1.5"/>
<polyline points="1132.8,382.8 1104.4,382.8 1076.0,511.3" fill="none" stroke="#111" stroke-width="1.5"/>
<polyline points="1157.6,411.2 1116.8,411.2 1095.5,497.1" fill="none" stroke="#111" stroke-width="1.5"/>
<polyline points="1194.9,447.6 1167.9,447.6 1143.4,481.1" fill="none" stroke="#111" stroke-width="1.5"/>
<polyline points="866.6,617.8 928.7,616.0" fill="none" stroke="#111" stroke-width="1.5"/>
<text transform="translate(560.5,150.0) scale(0.97,1)">528369 01</text>
<text transform="translate(566.5,218.5) scale(0.97,1)">513163</text>
<text transform="translate(563.5,265.5) scale(0.97,1)">530411</text>
<text transform="translate(49.9,261.5) scale(0.97,1)">700705</text>
<text transform="translate(229.5,319.3) scale(0.97,1)">512369</text>
<text transform="translate(157.9,373.1) scale(0.97,1)">528070</text>
<text transform="translate(569.8,375.5) scale(0.97,1)">528368 02</text>
<text transform="translate(35.4,432.0) scale(0.97,1)">512422</text>
<text transform="translate(342.2,433.0) scale(0.97,1)">702849</text>
<text transform="translate(46.4,472.9) scale(0.97,1)">337176</text>
<text transform="translate(346.6,486.5) scale(0.97,1)">549189</text>
<text transform="translate(65.1,509.0) scale(0.97,1)">531072</text>
<text transform="translate(79.7,557.3) scale(0.97,1)">703757</text>
<text transform="translate(93.4,603.5) scale(0.97,1)">528247 (2)</text>
<text transform="translate(103.0,676.5) scale(0.97,1)">703482 (2)</text>
<text transform="translate(119.4,716.5) scale(0.97,1)">531203</text>
<text transform="translate(761.5,719.0) scale(0.97,1)">512565 (2)</text>
<text transform="translate(81.8,762.5) scale(0.97,1)">512369 (4)</text>
<text transform="translate(762.2,772.2) scale(0.97,1)">531266</text>
<text transform="translate(80.5,818.5) scale(0.97,1)">528868 (4)</text>
<text transform="translate(80.5,863.0) scale(0.97,1)">531021 (2)</text>
<text transform="translate(82.7,916.0) scale(0.97,1)">512371 (4)</text>
<text transform="translate(121.5,966.1) scale(0.97,1)">513153</text>
<text transform="translate(836.9,1108.8) scale(0.97,1)">701771 (2)</text>
<text transform="translate(855.5,300.5) scale(0.97,1)">530793</text>
<text transform="translate(1037.2,304.1) scale(0.97,1)">513066</text>
<text transform="translate(1060.2,337.8) scale(0.97,1)">337176</text>
<text transform="translate(1082.5,368.7) scale(0.97,1)">531070</text>
<text transform="translate(1140.5,389.3) scale(0.97,1)">700734</text>
<text transform="translate(1162.5,422.3) scale(0.97,1)">513065</text>
<text transform="translate(1199.7,454.9) scale(0.97,1)">530792</text>
<text transform="translate(752.5,625.3) scale(0.97,1)">373265 (2)</text>
</svg></body></html>
